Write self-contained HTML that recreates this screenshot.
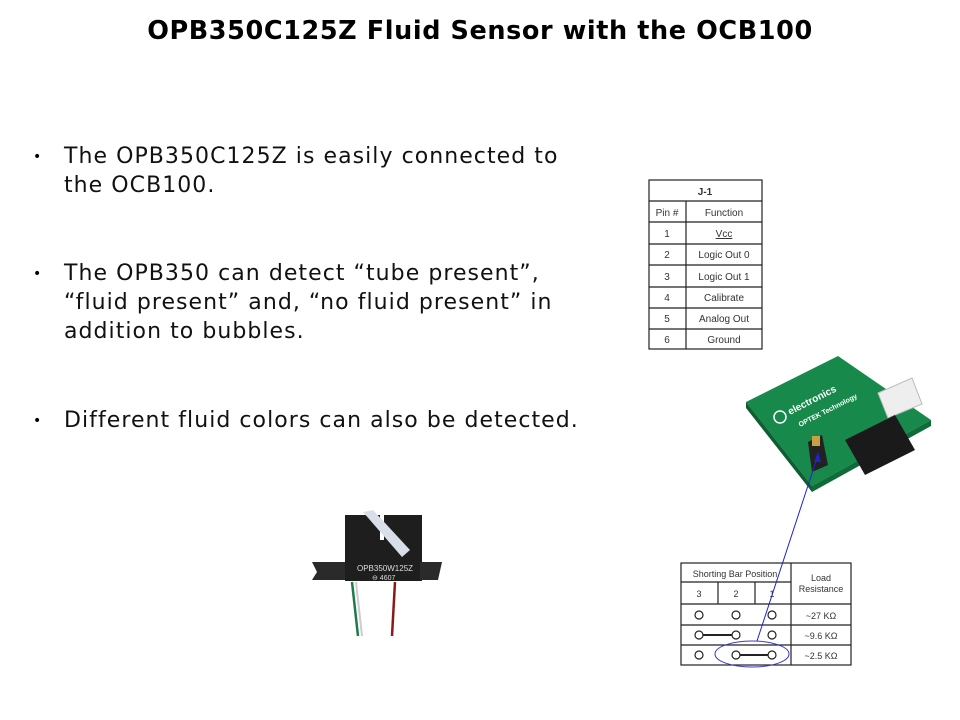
<!DOCTYPE html>
<html><head><meta charset="utf-8"><style>
body{margin:0;width:960px;height:720px;background:#fff;position:relative;overflow:hidden;font-family:"DejaVu Sans",sans-serif}
.t{position:absolute;left:0;width:960px;top:16px;text-align:center;font-weight:bold;font-size:25.5px;letter-spacing:0.6px;color:#000;white-space:nowrap}
.b{position:absolute;left:64px;font-size:22px;letter-spacing:1.05px;line-height:29px;color:#111;white-space:nowrap}
.d{position:absolute;left:33px;font-size:14px}
</style></head><body>
<div class="t">OPB350C125Z Fluid Sensor with the OCB100</div>
<div class="d" style="top:149px">•</div>
<div class="b" style="top:142px">The OPB350C125Z is easily connected to<br>the OCB100.</div>
<div class="d" style="top:266px">•</div>
<div class="b" style="top:259px">The OPB350 can detect “tube present”,<br>“fluid present” and, “no fluid present” in<br>addition to bubbles.</div>
<div class="d" style="top:413px">•</div>
<div class="b" style="top:406px">Different fluid colors can also be detected.</div>
<svg width="960" height="720" style="position:absolute;left:0;top:0" font-family="Liberation Sans, sans-serif">
<g stroke="#222" fill="none" stroke-width="1.2">
<rect x="649" y="180" width="113" height="169"/>
<line x1="649" y1="201" x2="762" y2="201"/><line x1="649" y1="222" x2="762" y2="222"/>
<line x1="649" y1="244" x2="762" y2="244"/><line x1="649" y1="265" x2="762" y2="265"/>
<line x1="649" y1="287" x2="762" y2="287"/><line x1="649" y1="308" x2="762" y2="308"/>
<line x1="649" y1="329" x2="762" y2="329"/><line x1="686" y1="201" x2="686" y2="349"/>
</g>
<g font-size="10" fill="#333" text-anchor="middle">
<text x="705" y="195" font-weight="bold">J-1</text>
<text x="667" y="216">Pin #</text><text x="724" y="216">Function</text>
<text x="667" y="237">1</text><text x="724" y="237" text-decoration="underline">Vcc</text>
<text x="667" y="258">2</text><text x="724" y="258">Logic Out 0</text>
<text x="667" y="280">3</text><text x="724" y="280">Logic Out 1</text>
<text x="667" y="301">4</text><text x="724" y="301">Calibrate</text>
<text x="667" y="322">5</text><text x="724" y="322">Analog Out</text>
<text x="667" y="343">6</text><text x="724" y="343">Ground</text>
</g>
<!-- board -->
<polygon points="746,402 838,356 931,420 812,486" fill="#17894a"/>
<polygon points="746,402 812,486 812,492 746,408" fill="#0d5e30"/>
<polygon points="812,486 931,420 931,426 812,492" fill="#0f6b38"/>
<text x="790" y="415" fill="#fff" font-size="10" font-weight="bold" transform="rotate(-27 790 415)">electronics</text>
<text x="800" y="427" fill="#fff" font-size="7" font-weight="bold" transform="rotate(-27 800 427)">OPTEK Technology</text>
<circle cx="780" cy="417" r="6" fill="none" stroke="#fff" stroke-width="1.5"/>
<polygon points="878,393 912,378 922,404 888,418" fill="#eee" stroke="#bbb"/>
<polygon points="845,440 895,415 915,450 865,475" fill="#1a1a1a"/>
<polygon points="808,442 822,435 828,465 812,472" fill="#222"/>
<rect x="812" y="436" width="8" height="10" fill="#c8a040"/>
<!-- shorting table -->
<g stroke="#222" fill="none" stroke-width="1.2">
<rect x="681" y="563" width="170" height="102"/>
<line x1="681" y1="582" x2="791" y2="582"/><line x1="681" y1="604" x2="851" y2="604"/>
<line x1="681" y1="625" x2="851" y2="625"/><line x1="681" y1="645" x2="851" y2="645"/>
<line x1="791" y1="563" x2="791" y2="665"/><line x1="718" y1="582" x2="718" y2="604"/>
<line x1="755" y1="582" x2="755" y2="604"/>
<circle cx="699" cy="615" r="4"/><circle cx="736" cy="615" r="4"/><circle cx="772" cy="615" r="4"/>
<circle cx="699" cy="635" r="4"/><circle cx="736" cy="635" r="4"/><circle cx="772" cy="635" r="4"/>
<circle cx="699" cy="655" r="4"/><circle cx="736" cy="655" r="4"/><circle cx="772" cy="655" r="4"/>
<line x1="703" y1="635" x2="732" y2="635" stroke-width="2"/><line x1="740" y1="655" x2="768" y2="655" stroke-width="2"/>
</g>
<g font-size="9" fill="#333" text-anchor="middle">
<text x="735" y="577">Shorting Bar Position</text>
<text x="821" y="581">Load</text><text x="821" y="592">Resistance</text>
<text x="699" y="597">3</text><text x="736" y="597">2</text><text x="772" y="597">1</text>
<text x="821" y="619">~27 KΩ</text><text x="821" y="639">~9.6 KΩ</text><text x="821" y="659">~2.5 KΩ</text>
</g>
<ellipse cx="752" cy="654" rx="37" ry="13" fill="none" stroke="#3a3ad0" stroke-width="1"/>
<line x1="757" y1="641" x2="818" y2="455" stroke="#2222cc" stroke-width="1"/>
<polygon points="818,452 814,462 821,462" fill="#2222cc"/>
<!-- sensor -->
<line x1="352" y1="582" x2="358" y2="636" stroke="#1f7a4a" stroke-width="2.5"/>
<line x1="356" y1="582" x2="362" y2="636" stroke="#ccc" stroke-width="2"/>
<line x1="395" y1="582" x2="392" y2="636" stroke="#8a1a1a" stroke-width="2.5"/>
<rect x="345" y="515" width="35" height="66" fill="#1e1e1e"/>
<rect x="384" y="515" width="38" height="66" fill="#1e1e1e"/>
<rect x="370" y="540" width="25" height="41" fill="#1e1e1e"/>
<polygon points="312,562 345,562 345,580 312,580 317,572" fill="#2a2a2a"/>
<polygon points="420,562 442,562 438,580 420,580" fill="#2a2a2a"/>
<polygon points="363,512 373,510 410,550 402,557" fill="#d8dfe8"/>
<text x="357" y="571" fill="#ddd" font-size="8">OPB350W125Z</text>
<text x="372" y="580" fill="#ddd" font-size="7">⊖ 4607</text>
</svg>
</body></html>
